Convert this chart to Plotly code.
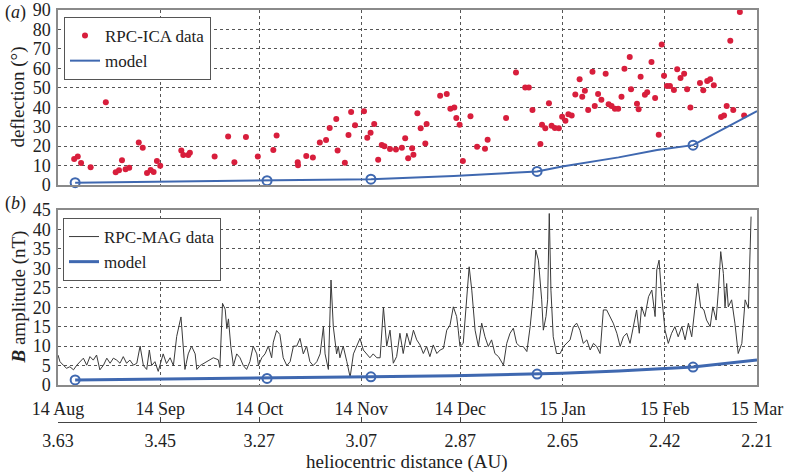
import pandas as pd
import plotly.graph_objects as go

# ---------------- data ----------------
START = "2014-08-01"
END = "2015-03-01"
month_ticks = ["2014-08-01", "2014-09-01", "2014-10-01", "2014-11-01",
               "2014-12-01", "2015-01-01", "2015-02-01", "2015-03-01"]
au_labels = ["3.63", "3.45", "3.27", "3.07", "2.87", "2.65", "2.42", "2.21"]

# (a) RPC-ICA deflection: days since 1 Aug 2014, deflection in degrees
ica_days = [4.9, 6.0, 7.0, 9.9, 14.5, 17.5, 18.5, 19.4, 20.5, 21.6, 24.5, 25.7, 27.0, 28.1,
            29.0, 30.0, 31.0, 37.4, 38.0, 39.5, 40.0, 47.5, 51.6, 53.5, 57.0, 60.6, 65.3, 66.3,
            72.7, 72.8, 75.3, 77.3, 79.4, 81.3, 82.4, 84.4, 84.8, 87.0, 88.1, 88.9, 90.1, 92.8,
            93.8, 94.8, 95.9, 97.1, 98.2, 99.0, 100.7, 102.5, 104.3, 105.3, 106.2, 107.4, 107.8,
            109.0, 110.0, 111.4, 111.8, 115.9, 117.9, 119.0, 120.2, 120.8, 121.8, 122.8, 125.1,
            127.1, 129.5, 130.3, 135.9, 138.9, 141.7, 142.8, 143.9, 146.3, 146.8, 147.8, 148.9,
            149.7, 150.7, 151.9, 152.9, 153.9, 154.8, 155.8, 156.9, 158.2, 159.0, 159.8, 160.8,
            162.1, 162.8, 163.8, 164.8, 166.1, 167.0, 167.9, 168.9, 169.9, 170.9, 171.8, 173.4,
            173.8, 175.6, 176.1, 176.7, 178.0, 178.7, 180.0, 181.1, 182.2, 183.1, 183.8, 184.7,
            185.6, 186.8, 187.8, 188.8, 189.9, 190.8, 191.8, 194.7, 195.7, 196.9, 197.8, 198.9,
            201.1, 202.0, 202.8, 203.9, 204.8, 206.8, 208.1]
ica_deflection = [13.4, 14.6, 11.3, 9.1, 42.5, 6.5, 7.6, 12.7, 8.1, 8.9, 21.8, 19.2, 6.2, 7.7,
                  6.7, 12.3, 9.9, 17.8, 15.4, 15.4, 16.6, 14.7, 24.9, 11.7, 24.7, 14.6, 18.0, 25.4,
                  11.7, 10.1, 14.9, 14.1, 21.8, 23.1, 29.3, 33.9, 17.7, 11.5, 25.7, 37.5, 30.7, 37.9,
                  24.3, 26.9, 31.4, 13.0, 20.6, 19.9, 18.5, 18.2, 19.2, 24.0, 13.7, 18.9, 15.6,
                  36.9, 29.2, 21.4, 31.4, 45.9, 46.8, 39.2, 39.8, 34.5, 31.0, 12.3, 35.3,
                  19.7, 18.7, 23.3, 34.5, 57.8, 50.2, 50.1, 38.6, 21.1, 31.0, 29.2, 42.0,
                  30.5, 29.3, 29.2, 35.1, 33.1, 36.4, 35.8, 46.6, 54.4, 45.4, 48.5, 38.6,
                  58.3, 40.6, 46.8, 43.9, 57.2, 41.5, 40.6, 39.2, 39.2, 45.4, 59.8, 65.8,
                  49.2, 41.8, 38.9, 55.7, 46.4, 47.7, 63.3, 44.7, 25.9, 72.3, 56.2, 50.9,
                  50.9, 48.9, 59.5, 55.0, 57.2, 49.2, 39.8, 52.5, 48.7, 53.5, 54.4, 51.3,
                  35.0, 35.7, 40.6, 74.2, 38.6, 89.0, 35.8]

# model curves (days since 1 Aug 2014)
model_days = [5.2, 63.4, 94.9, 120.0, 145.3, 152.9, 170.0, 181.7, 192.6, 212.0]
model_deflection = [1.2, 2.2, 3.0, 4.6, 7.0, 9.5, 14.2, 18.0, 20.5, 38.0]
model_B = [1.3, 1.7, 2.1, 2.4, 2.8, 3.0, 3.6, 4.1, 4.6, 6.4]
model_mark_days = [5.2, 63.4, 94.9, 145.3, 192.6]
model_mark_deflection = [1.2, 2.2, 3.0, 7.0, 20.5]
model_mark_B = [1.3, 1.7, 2.1, 2.8, 4.6]

# (b) RPC-MAG |B| in nT
mag_days = [0.0, 0.6, 1.6, 2.6, 3.6, 4.7, 5.7, 6.7, 7.7, 8.7, 9.7, 10.7, 11.7, 12.7, 13.8, 14.8,
            15.8, 16.8, 17.8, 18.8, 19.8, 20.8, 21.8, 22.9, 23.9, 24.9, 25.9, 26.9, 27.7, 28.4,
            29.4, 30.4, 31.9, 32.9, 34.0, 35.0, 36.0, 37.3, 38.0, 38.5, 39.5, 40.5, 41.6, 42.1,
            43.1, 45.1, 47.1, 48.6, 49.1, 49.9, 50.7, 51.2, 51.7, 52.4, 53.2, 54.2, 55.2, 56.2,
            57.2, 58.2, 59.2, 60.3, 60.8, 61.8, 62.8, 63.8, 64.8, 65.3, 66.3, 67.3, 68.3, 69.4,
            70.4, 71.4, 72.4, 73.4, 74.4, 75.4, 76.4, 77.4, 78.5, 79.5, 80.5, 81.0, 82.0, 82.8,
            83.5, 84.5, 85.0, 85.5, 86.5, 87.6, 88.6, 89.6, 90.6, 91.6, 92.6, 93.6, 94.6, 95.6,
            96.7, 97.7, 98.7, 99.7,
            100.7, 101.7, 102.7, 103.7, 104.7, 105.8, 106.8, 107.8, 108.8, 109.8, 110.8, 111.8,
            112.8, 113.8, 114.9, 115.9, 116.9, 117.9, 118.9, 119.9, 120.9, 121.4, 121.9, 122.9,
            123.9, 124.7, 125.5, 126.5, 127.5, 128.5, 129.5, 130.5, 131.5, 132.5, 133.6, 135.1,
            136.1, 137.1, 138.1, 139.1, 140.1, 141.1, 142.2, 143.2, 144.0, 144.9, 145.7, 146.7,
            147.2, 148.0, 148.5, 149.0, 149.5, 150.2, 151.2, 152.3, 153.3, 154.3, 155.3, 156.3,
            157.3, 158.3, 159.3, 160.4, 161.4, 162.4, 163.4, 164.4, 165.4, 166.4, 167.4, 168.4,
            169.5, 170.5, 171.5, 172.5, 173.5, 174.5, 175.5, 176.3, 177.0, 178.0, 179.1, 180.1,
            181.1, 181.6, 182.3, 183.1, 184.1, 185.1, 186.1, 187.1, 188.1, 189.2, 190.2, 191.2,
            192.2, 193.2, 194.0, 194.9, 195.9, 196.7, 197.8, 198.6, 199.6, 200.3, 201.0, 201.8,
            202.3, 202.8, 203.3, 204.3, 205.3, 206.3, 207.4, 208.4, 209.4, 210.2]
mag_B = [7.7, 6.0, 5.1, 4.3, 4.7, 3.9, 5.1, 6.0, 6.9, 5.1, 7.3, 6.4, 7.7, 3.9, 5.1, 6.9,
         5.6, 6.9, 6.4, 5.6, 7.3, 5.6, 6.4, 5.1, 5.6, 10.0, 5.0, 4.0, 9.0, 5.0,
         6.0, 3.5, 8.0, 5.5, 7.0, 5.0, 12.5, 17.5, 10.0, 4.0, 8.0, 10.0, 8.0, 4.0,
         5.0, 6.0, 7.0, 6.5, 4.5, 21.0, 19.5, 14.5, 17.0, 10.0, 5.0, 8.0, 7.0, 5.0,
         4.0, 6.0, 10.0, 8.0, 5.0, 7.0, 8.0, 10.0, 7.0, 11.0, 14.0, 13.0, 7.0, 5.0,
         6.0, 10.0, 10.0, 12.0, 8.0, 10.0, 6.0, 5.0, 6.0, 8.0, 15.0, 8.0, 4.0, 27.0,
         15.0, 8.0, 10.0, 7.0, 10.0, 6.0, 2.0, 8.0, 10.0, 12.0, 9.0, 8.0, 7.0, 8.0,
         7.0, 7.0, 20.0, 10.0,
         14.1, 5.6, 7.3, 13.3, 8.1, 13.3, 10.3, 14.1, 11.6, 10.3, 8.1, 9.9,
         7.3, 10.3, 8.1, 9.0, 9.4, 14.1, 15.4, 20.1, 17.6, 14.1, 9.9, 10.7,
         22.7, 30.4, 24.4, 14.1, 9.9, 15.9, 12.4, 9.9, 11.6, 8.1, 7.3, 5.1,
         10.7, 13.3, 14.6, 10.7, 9.9, 9.9, 8.6, 15.0, 21.9, 34.7, 32.1, 21.9,
         14.1, 17.6, 21.9, 44.1, 24.4, 12.4, 8.1, 8.1, 9.9, 10.7, 11.6, 15.0,
         15.9, 14.1, 10.7, 11.6, 9.0, 10.7, 9.9, 8.1, 19.3, 19.3, 17.6, 15.9,
         13.3, 9.9, 12.4, 13.3, 10.7, 15.0, 19.3, 13.3, 20.1, 17.6, 22.7, 24.4,
         17.6, 29.6, 32.1, 22.7, 14.1, 10.7, 13.3, 15.0, 12.4, 15.0, 11.6, 15.9,
         12.4, 20.1, 26.1, 20.1, 19.3, 16.7, 15.0, 20.1, 16.7, 24.4, 34.3, 28.7,
         20.1, 26.1, 20.1, 21.9, 15.9, 8.1, 10.7, 21.9, 19.7, 43.3]

# ---------------- styling ----------------
FONT = "Liberation Serif, Times New Roman, Times, serif"
FS = 18
BLUE = "#3f68b0"
RED = "#d81e3c"
GRID = "#555555"
FRAME = "#8a8a8a"
TXT = "#222222"

base = pd.Timestamp(START)


def to_dates(days):
    return base + pd.to_timedelta(days, unit="D")


fig = go.Figure()

# (a)
fig.add_trace(go.Scatter(x=to_dates(ica_days), y=ica_deflection, mode="markers",
                         marker=dict(color=RED, size=6), name="RPC-ICA data",
                         xaxis="x", yaxis="y", legend="legend", cliponaxis=False))
fig.add_trace(go.Scatter(x=to_dates(model_days), y=model_deflection, mode="lines",
                         line=dict(color=BLUE, width=2), name="model",
                         xaxis="x", yaxis="y", legend="legend"))
fig.add_trace(go.Scatter(x=to_dates(model_mark_days), y=model_mark_deflection, mode="markers",
                         marker=dict(symbol="circle-open", color=BLUE, size=9,
                                     line=dict(width=2, color=BLUE)),
                         showlegend=False, xaxis="x", yaxis="y", cliponaxis=False))

# (b)
fig.add_trace(go.Scatter(x=to_dates(mag_days), y=mag_B, mode="lines",
                         line=dict(color="#3a3a3a", width=1), name="RPC-MAG data",
                         xaxis="x2", yaxis="y2", legend="legend2"))
fig.add_trace(go.Scatter(x=to_dates(model_days), y=model_B, mode="lines",
                         line=dict(color=BLUE, width=3), name="model",
                         xaxis="x2", yaxis="y2", legend="legend2"))
fig.add_trace(go.Scatter(x=to_dates(model_mark_days), y=model_mark_B, mode="markers",
                         marker=dict(symbol="circle-open", color=BLUE, size=9,
                                     line=dict(width=2, color=BLUE)),
                         showlegend=False, xaxis="x2", yaxis="y2", cliponaxis=False))
# carrier for the heliocentric-distance axis
fig.add_trace(go.Scatter(x=[START, END], y=[None, None], mode="lines", showlegend=False,
                         hoverinfo="skip", xaxis="x3", yaxis="y2"))

W, H = 785, 473
L, R, T, B = 58, 28, 10, 51
ph = H - T - B
pw = W - L - R


def fy(px):
    return (H - B - px) / ph


def fx(px):
    return (px - L) / pw


tickfont = dict(family=FONT, size=FS, color=TXT)
axis_common = dict(showline=True, linecolor=FRAME, linewidth=1.5, mirror=True,
                   showgrid=True, gridcolor=GRID, griddash="dot", gridwidth=1,
                   zeroline=False, ticks="", tickfont=tickfont, automargin=False)

fig.update_layout(
    width=W, height=H, margin=dict(l=L, r=R, t=T, b=B, autoexpand=False),
    paper_bgcolor="white", plot_bgcolor="white",
    font=dict(family=FONT, size=FS, color=TXT),
    xaxis=dict(axis_common, type="date", range=[START, END], tickvals=month_ticks,
               showticklabels=False, anchor="y", domain=[0, 1]),
    yaxis=dict(axis_common, range=[0, 90], dtick=10, domain=[fy(185), fy(10)], anchor="x",
               ticklabelstandoff=2),
    xaxis2=dict(axis_common, type="date", range=[START, END], tickvals=month_ticks,
                tickformat="%y %b", anchor="y2", domain=[0, 1], ticklabelstandoff=7),
    yaxis2=dict(axis_common, range=[0, 45], dtick=5, domain=[fy(385), fy(210)], anchor="x2",
                ticklabelstandoff=2),
    xaxis3=dict(type="date", range=[START, END], tickvals=month_ticks, ticktext=au_labels,
                overlaying="x2", anchor="free", position=0, side="bottom",
                showline=True, linecolor="#444", linewidth=1, ticks="inside", ticklen=5,
                tickcolor="#444", showgrid=False, zeroline=False, ticklabelstandoff=2,
                automargin=False, tickfont=tickfont),
    legend=dict(x=fx(64), y=fy(17), xanchor="left", yanchor="top",
                bgcolor="white", bordercolor="#555", borderwidth=1,
                font=dict(family=FONT, size=FS - 1, color=TXT), tracegroupgap=0,
                itemwidth=30),
    legend2=dict(x=fx(63), y=fy(218), xanchor="left", yanchor="top",
                 bgcolor="white", bordercolor="#555", borderwidth=1,
                 font=dict(family=FONT, size=FS - 1, color=TXT), tracegroupgap=0,
                 itemwidth=30),
    showlegend=True,
)

annotations = [
    dict(text="deflection (°)", x=fx(18), y=(fy(185) + fy(10)) / 2,
         xref="paper", yref="paper", textangle=-90, showarrow=False,
         xanchor="center", yanchor="middle", font=dict(family=FONT, size=FS + 1, color=TXT)),
    dict(text="<b><i>B</i></b> amplitude (nT)", x=fx(18),
         y=(fy(385) + fy(210)) / 2, xref="paper", yref="paper", textangle=-90,
         xanchor="center", yanchor="middle",
         showarrow=False, font=dict(family=FONT, size=FS + 1, color=TXT)),
    dict(text="(<i>a</i>)", x=fx(15), y=fy(12), xref="paper", yref="paper",
         xanchor="center", yanchor="middle",
         showarrow=False, font=dict(family=FONT, size=FS, color=TXT)),
    dict(text="(<i>b</i>)", x=fx(15), y=fy(203), xref="paper", yref="paper",
         xanchor="center", yanchor="middle",
         showarrow=False, font=dict(family=FONT, size=FS, color=TXT)),
    dict(text="heliocentric distance (AU)", x=fx(407), y=fy(462), xref="paper", yref="paper",
         xanchor="center", yanchor="middle",
         showarrow=False, font=dict(family=FONT, size=FS + 1, color=TXT)),
]
fig.update_layout(annotations=annotations)

fig.write_html("out.html", config={"displayModeBar": False},
               post_script="document.body.style.margin='0';document.body.style.padding='0';")
